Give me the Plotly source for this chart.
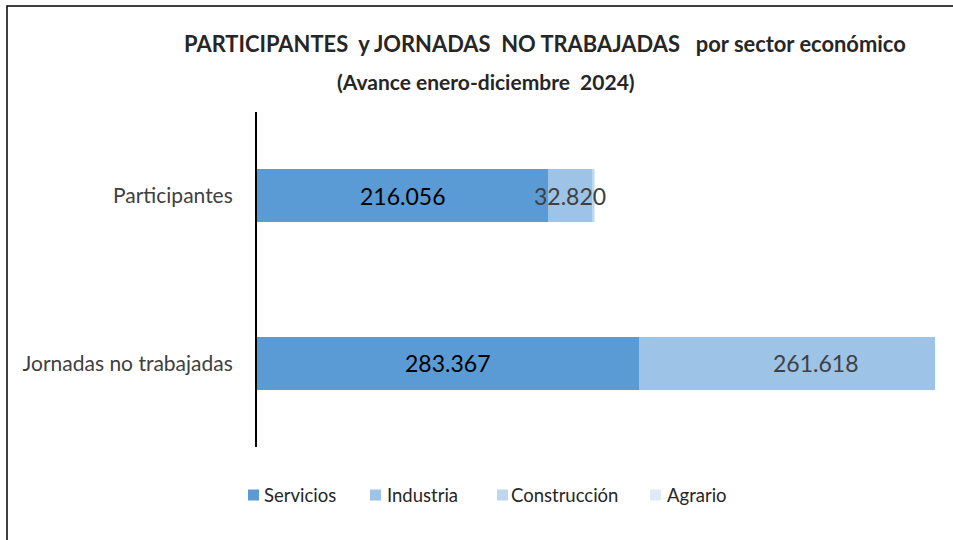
import plotly.graph_objects as go

categories = ["Participantes", "Jornadas no trabajadas"]
series_names = ["Servicios", "Industria", "Construcción", "Agrario"]
servicios = [216056, 283367]
industria = [32820, 261618]
construccion = [1400, 12000]
agrario = [400, 2000]
labels_servicios = ["216.056", "283.367"]
labels_industria = ["32.820", "261.618"]

colors = ["#5B9BD5", "#9DC3E6", "#BDD7EE", "#DEEBF7"]
values = [servicios, industria, construccion, agrario]

W, H = 953, 540
L, R, T, B = 257, 18, 112, 93
pw = W - L - R
ph = H - T - B
xmax = 503000
FONT = "Lato"

fig = go.Figure()
for name, vals, col in zip(series_names, values, colors):
    fig.add_trace(go.Bar(
        y=categories, x=vals, name=name, orientation="h",
        marker=dict(color=col, line=dict(width=0)),
        width=0.316, showlegend=False,
    ))


def px(xp):
    return (xp - L) / pw


def py(yp):
    return 1 - (yp - T) / ph


annotations = []
for i, cat in enumerate(categories):
    annotations.append(dict(x=servicios[i] / 2, y=cat, xref="x", yref="y",
                            text=labels_servicios[i], showarrow=False,
                            font=dict(family=FONT, size=23, color="#000000")))
    annotations.append(dict(x=servicios[i] + industria[i] / 2, y=cat, xref="x", yref="y",
                            text=labels_industria[i], showarrow=False,
                            font=dict(family=FONT, size=23, color="#404040")))

annotations.append(dict(x=px(545), y=py(43), xref="paper", yref="paper",
                        text="<b>PARTICIPANTES\u00a0 y JORNADAS\u00a0 NO TRABAJADAS\u00a0\u00a0 por sector económico</b>",
                        showarrow=False, xanchor="center", yanchor="middle",
                        font=dict(family=FONT, size=21.9, color="#262626")))
annotations.append(dict(x=px(486), y=py(81), xref="paper", yref="paper",
                        text="<b>(Avance enero-diciembre\u00a0 2024)</b>",
                        showarrow=False, xanchor="center", yanchor="middle",
                        font=dict(family=FONT, size=21, color="#262626")))

# custom legend (square + label)
leg_sq_x = [248, 370, 497, 650]
leg_tx_x = [262, 385, 509, 665]
leg_y = 495
shapes = []
for name, col, sx, tx in zip(series_names, colors, leg_sq_x, leg_tx_x):
    shapes.append(dict(type="rect", xref="paper", yref="paper",
                       x0=px(sx), x1=px(sx + 11), y0=py(leg_y + 5.5), y1=py(leg_y - 5.5),
                       fillcolor=col, line=dict(width=0)))
    annotations.append(dict(x=px(tx), y=py(leg_y), xref="paper", yref="paper",
                            text=name, showarrow=False, xanchor="left", yanchor="middle",
                            font=dict(family=FONT, size=18.5, color="#262626")))

shapes.append(dict(type="rect", xref="paper", yref="paper",
                   x0=px(7), x1=px(970), y0=py(560), y1=py(6),
                   line=dict(color="#000000", width=1.5), fillcolor="rgba(0,0,0,0)",
                   layer="below"))

fig.update_layout(
    width=W, height=H,
    margin=dict(l=L, r=R, t=T, b=B, pad=0),
    barmode="stack",
    paper_bgcolor="white", plot_bgcolor="white",
    showlegend=False,
    xaxis=dict(range=[0, xmax], visible=False, showgrid=False, zeroline=False),
    yaxis=dict(autorange="reversed", showline=True, linecolor="#000000", linewidth=2,
               ticks="", showgrid=False, zeroline=False, ticklabelstandoff=18,
               tickfont=dict(family=FONT, size=21, color="#404040")),
    annotations=annotations,
    shapes=shapes,
)

fig.write_html("out.html", config={"displayModeBar": False},
               post_script="document.body.style.margin='0';")
